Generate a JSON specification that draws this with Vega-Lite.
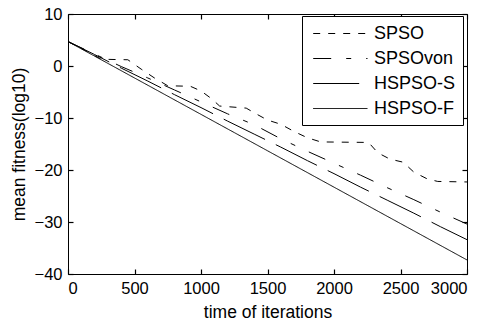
{
  "$schema": "https://vega.github.io/schema/vega-lite/v6.json",
  "width": 399,
  "height": 260,
  "autosize": "none",
  "padding": {"left": 68, "top": 14, "right": 19, "bottom": 51},
  "background": "white",
  "data": {"values": [
    {"alg": "SPSO", "it": 0, "f": 4.7},
    {"alg": "SPSO", "it": 150, "f": 2.7},
    {"alg": "SPSO", "it": 250, "f": 1.3},
    {"alg": "SPSO", "it": 450, "f": 1.2},
    {"alg": "SPSO", "it": 550, "f": -0.6},
    {"alg": "SPSO", "it": 650, "f": -2.3},
    {"alg": "SPSO", "it": 750, "f": -3.8},
    {"alg": "SPSO", "it": 920, "f": -3.9},
    {"alg": "SPSO", "it": 1000, "f": -4.8},
    {"alg": "SPSO", "it": 1080, "f": -6.3},
    {"alg": "SPSO", "it": 1140, "f": -7.7},
    {"alg": "SPSO", "it": 1340, "f": -8.1},
    {"alg": "SPSO", "it": 1400, "f": -9.0},
    {"alg": "SPSO", "it": 1500, "f": -10.4},
    {"alg": "SPSO", "it": 1600, "f": -11.2},
    {"alg": "SPSO", "it": 1700, "f": -12.6},
    {"alg": "SPSO", "it": 1800, "f": -13.8},
    {"alg": "SPSO", "it": 1900, "f": -14.6},
    {"alg": "SPSO", "it": 2260, "f": -14.7},
    {"alg": "SPSO", "it": 2330, "f": -16.7},
    {"alg": "SPSO", "it": 2420, "f": -17.9},
    {"alg": "SPSO", "it": 2520, "f": -18.5},
    {"alg": "SPSO", "it": 2600, "f": -20.4},
    {"alg": "SPSO", "it": 2700, "f": -21.7},
    {"alg": "SPSO", "it": 2780, "f": -22.2},
    {"alg": "SPSO", "it": 3000, "f": -22.3},
    {"alg": "SPSOvon", "it": 0, "f": 4.7},
    {"alg": "SPSOvon", "it": 200, "f": 2.3},
    {"alg": "SPSOvon", "it": 400, "f": -0.1},
    {"alg": "SPSOvon", "it": 600, "f": -2.3},
    {"alg": "SPSOvon", "it": 800, "f": -4.6},
    {"alg": "SPSOvon", "it": 1000, "f": -6.9},
    {"alg": "SPSOvon", "it": 1200, "f": -9.2},
    {"alg": "SPSOvon", "it": 1400, "f": -11.3},
    {"alg": "SPSOvon", "it": 1600, "f": -14.0},
    {"alg": "SPSOvon", "it": 1800, "f": -16.4},
    {"alg": "SPSOvon", "it": 2000, "f": -18.7},
    {"alg": "SPSOvon", "it": 2200, "f": -21.0},
    {"alg": "SPSOvon", "it": 2400, "f": -23.4},
    {"alg": "SPSOvon", "it": 2600, "f": -25.7},
    {"alg": "SPSOvon", "it": 2800, "f": -28.1},
    {"alg": "SPSOvon", "it": 3000, "f": -30.4},
    {"alg": "HSPSO-S", "it": 0, "f": 4.7},
    {"alg": "HSPSO-S", "it": 200, "f": 2.2},
    {"alg": "HSPSO-S", "it": 400, "f": -0.4},
    {"alg": "HSPSO-S", "it": 600, "f": -2.9},
    {"alg": "HSPSO-S", "it": 800, "f": -5.5},
    {"alg": "HSPSO-S", "it": 1000, "f": -8.0},
    {"alg": "HSPSO-S", "it": 1200, "f": -10.6},
    {"alg": "HSPSO-S", "it": 1400, "f": -13.1},
    {"alg": "HSPSO-S", "it": 1600, "f": -15.6},
    {"alg": "HSPSO-S", "it": 1800, "f": -18.2},
    {"alg": "HSPSO-S", "it": 2000, "f": -20.7},
    {"alg": "HSPSO-S", "it": 2200, "f": -23.3},
    {"alg": "HSPSO-S", "it": 2400, "f": -25.8},
    {"alg": "HSPSO-S", "it": 2600, "f": -28.3},
    {"alg": "HSPSO-S", "it": 2800, "f": -30.9},
    {"alg": "HSPSO-S", "it": 3000, "f": -33.4},
    {"alg": "HSPSO-F", "it": 0, "f": 4.7},
    {"alg": "HSPSO-F", "it": 250, "f": 1.2},
    {"alg": "HSPSO-F", "it": 500, "f": -2.3},
    {"alg": "HSPSO-F", "it": 750, "f": -5.8},
    {"alg": "HSPSO-F", "it": 1000, "f": -9.3},
    {"alg": "HSPSO-F", "it": 1250, "f": -12.8},
    {"alg": "HSPSO-F", "it": 1500, "f": -16.3},
    {"alg": "HSPSO-F", "it": 1750, "f": -19.8},
    {"alg": "HSPSO-F", "it": 2000, "f": -23.3},
    {"alg": "HSPSO-F", "it": 2250, "f": -26.8},
    {"alg": "HSPSO-F", "it": 2500, "f": -30.3},
    {"alg": "HSPSO-F", "it": 2750, "f": -33.8},
    {"alg": "HSPSO-F", "it": 3000, "f": -37.3}
  ]},
  "layer": [
    {
      "mark": {"type": "line", "opacity": 0},
      "encoding": {
        "x": {"field": "it", "type": "quantitative", "scale": {"domain": [0, 3000], "nice": false}, "axis": {"orient": "top", "offset": -260, "values": [0, 500, 1000, 1500, 2000, 2500, 3000], "labels": false, "title": null}},
        "y": {"field": "f", "type": "quantitative", "scale": {"domain": [-40, 10], "nice": false}, "axis": {"orient": "right", "offset": -399, "values": [-40, -30, -20, -10, 0, 10], "labels": false, "title": null}},
        "detail": {"field": "alg"}
      }
    },
    {
      "mark": {"type": "line", "opacity": 0},
      "encoding": {
        "x": {"field": "it", "type": "quantitative", "axis": {"orient": "bottom", "offset": -260, "values": [0, 500, 1000, 1500, 2000, 2500, 3000], "labels": false, "title": null}},
        "y": {"field": "f", "type": "quantitative", "axis": {"orient": "left", "offset": -399, "values": [-40, -30, -20, -10, 0, 10], "labels": false, "title": null}},
        "detail": {"field": "alg"}
      }
    },
    {
      "mark": {"type": "line", "color": "black", "strokeWidth": 1},
      "encoding": {
        "x": {"field": "it", "type": "quantitative",
              "axis": {"orient": "bottom", "values": [0, 500, 1000, 1500, 2000, 2500, 3000], "format": "d", "ticks": false, "labelPadding": 6, "title": "time of iterations", "titlePadding": 7}},
        "y": {"field": "f", "type": "quantitative",
              "axis": {"orient": "left", "values": [-40, -30, -20, -10, 0, 10], "format": "d", "ticks": false, "labelPadding": 6, "title": "mean fitness(log10)", "titlePadding": 6}},
        "strokeDash": {"field": "alg", "type": "nominal",
          "scale": {"domain": ["SPSO", "SPSOvon", "HSPSO-S", "HSPSO-F"], "range": [[7, 8], [18, 15, 5, 15], [46, 12], [1, 0]]},
          "legend": {"title": null, "orient": "none", "legendX": 234, "legendY": 2, "padding": 7,
            "strokeColor": "black", "fillColor": "white", "symbolType": "M-0.63,0H4.8", "symbolSize": 400,
            "symbolStrokeWidth": 1, "symbolStrokeColor": "black", "labelOffset": 44, "labelFontSize": 18,
            "labelFont": "Liberation Sans", "labelColor": "black", "rowPadding": 5, "cornerRadius": 0}}
      }
    }
  ],
  "resolve": {"axis": {"x": "independent", "y": "independent"}},
  "config": {
    "view": {"stroke": "black", "strokeWidth": 1},
    "axis": {"domain": false, "grid": false, "tickSize": 5, "tickColor": "black", "tickWidth": 1.2,
      "labelFont": "Liberation Sans", "labelFontSize": 16.5, "labelColor": "black",
      "titleFont": "Liberation Sans", "titleFontSize": 17.5, "titleFontWeight": "normal", "titleColor": "black"}
  }
}
